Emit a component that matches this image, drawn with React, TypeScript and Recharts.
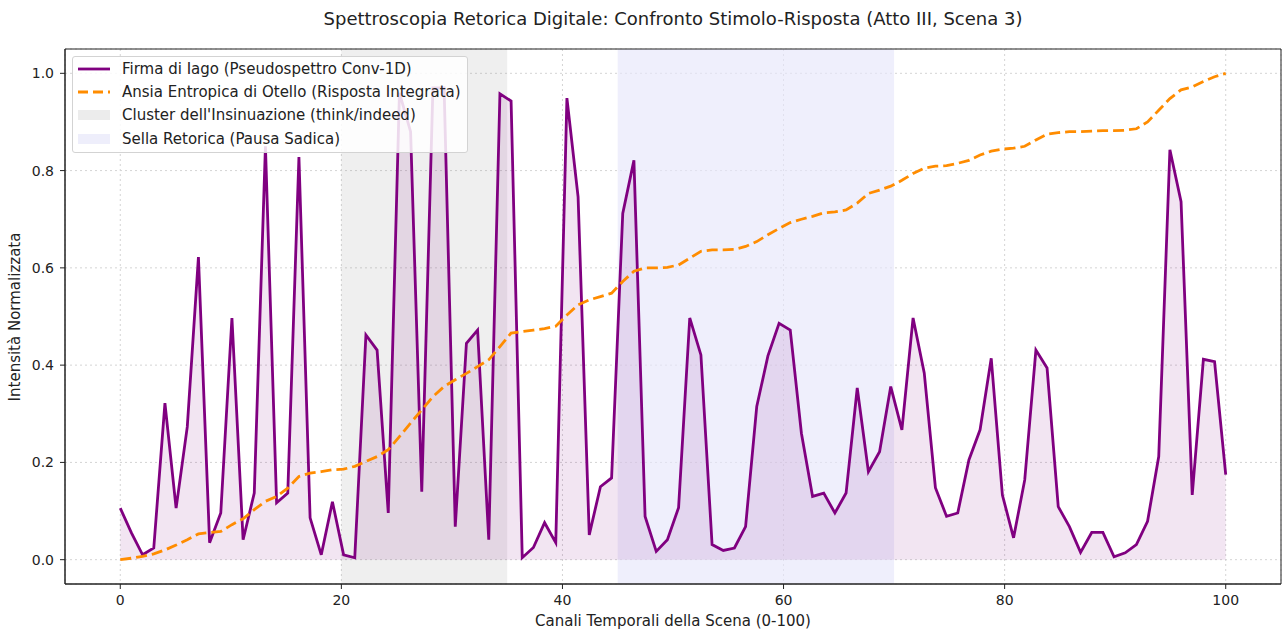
import {
  ComposedChart,
  Area,
  Line,
  XAxis,
  YAxis,
  CartesianGrid,
  ReferenceArea,
  Legend,
} from "recharts";

const FONT = "'DejaVu Sans', sans-serif";

// Firma di Iago, 100 canali su 0-100
const iagoSignature = [
  0.106, 0.055, 0.01, 0.024, 0.322, 0.106, 0.273, 0.622, 0.035, 0.096,
  0.497, 0.041, 0.137, 0.85, 0.117, 0.137, 0.828, 0.086, 0.01, 0.119,
  0.01, 0.004, 0.462, 0.431, 0.096, 0.96, 0.88, 0.14, 0.97, 0.97,
  0.068, 0.445, 0.472, 0.041, 0.958, 0.943, 0.004, 0.025, 0.076, 0.035,
  0.949, 0.746, 0.051, 0.15, 0.168, 0.712, 0.821, 0.089, 0.017, 0.041,
  0.107, 0.497, 0.421, 0.031, 0.019, 0.024, 0.068, 0.315, 0.419, 0.486,
  0.472, 0.26, 0.13, 0.137, 0.096, 0.137, 0.353, 0.181, 0.222, 0.356,
  0.267, 0.497, 0.384, 0.148, 0.089, 0.096, 0.205, 0.267, 0.414, 0.133,
  0.045, 0.164, 0.431, 0.394, 0.109, 0.068, 0.015, 0.056, 0.056, 0.006,
  0.014, 0.031, 0.079, 0.212, 0.843, 0.736, 0.133, 0.412, 0.407, 0.175,
];

// Ansia entropica di Otello (risposta integrata)
const otelloAnxiety = [
  0.0, 0.003, 0.007, 0.012, 0.02, 0.03, 0.041, 0.053, 0.056, 0.058,
  0.072, 0.084, 0.103, 0.12, 0.13, 0.147, 0.171, 0.178, 0.181, 0.185,
  0.186, 0.192, 0.202, 0.212, 0.226, 0.253, 0.281, 0.308, 0.335, 0.356,
  0.37, 0.383, 0.397, 0.411, 0.438, 0.466, 0.469, 0.472, 0.475, 0.48,
  0.503, 0.524, 0.534, 0.541, 0.548, 0.572, 0.593, 0.6, 0.6, 0.601,
  0.606, 0.62, 0.634, 0.637, 0.637, 0.638, 0.644, 0.654, 0.668, 0.681,
  0.693, 0.7, 0.706, 0.713, 0.715, 0.719, 0.733, 0.753, 0.76, 0.768,
  0.78, 0.794, 0.805, 0.809, 0.81, 0.815, 0.821, 0.832, 0.84, 0.844,
  0.846, 0.85, 0.863, 0.875, 0.878, 0.88, 0.88, 0.881, 0.882, 0.882,
  0.883, 0.886, 0.9, 0.924, 0.948, 0.966, 0.972, 0.983, 0.993, 1.0,
];

const xTicks = [0, 20, 40, 60, 80, 100];
const yTicks = [0, 0.2, 0.4, 0.6, 0.8, 1.0];
const insinuationSpan = [20, 35];
const saddleSpan = [45, 70];

const legendItems = [
  { label: "Firma di Iago (Pseudospettro Conv-1D)", kind: "line", color: "#800080" },
  { label: "Ansia Entropica di Otello (Risposta Integrata)", kind: "dash", color: "#ff8c00" },
  { label: "Cluster dell'Insinuazione (think/indeed)", kind: "patch", color: "#ececec" },
  { label: "Sella Retorica (Pausa Sadica)", kind: "patch", color: "#eeeefb" },
];

const data = iagoSignature.map((v, i) => ({
  x: (i * 100) / 99,
  iago: v,
  otello: otelloAnxiety[i],
}));

function ChartLegend() {
  return (
    <div
      style={{
        background: "rgba(255,255,255,0.85)",
        border: "1px solid #d3d3d3",
        borderRadius: 3,
        padding: "0 6px 2px 5px",
        fontFamily: FONT,
        fontSize: 15,
        color: "#222",
      }}
    >
      {legendItems.map((item) => (
        <div key={item.label} style={{ display: "flex", alignItems: "center", height: 23.3 }}>
          <svg width={32} height={12} style={{ marginRight: 12 }}>
            {item.kind === "patch" ? (
              <rect x={0} y={1} width={32} height={10} fill={item.color} />
            ) : (
              <line
                x1={0}
                y1={6}
                x2={32}
                y2={6}
                stroke={item.color}
                strokeWidth={2.8}
                strokeDasharray={item.kind === "dash" ? "10 5" : undefined}
              />
            )}
          </svg>
          <span style={{ whiteSpace: "nowrap" }}>{item.label}</span>
        </div>
      ))}
    </div>
  );
}

export default function App() {
  return (
    <div style={{ position: "relative", width: 1283, height: 632, background: "#fff" }}>
      <style>{"body{margin:0}"}</style>
      <div
        style={{
          position: "absolute",
          top: 8,
          left: 65,
          width: 1216,
          textAlign: "center",
          fontFamily: FONT,
          fontSize: 18,
          color: "#222",
        }}
      >
        Spettroscopia Retorica Digitale: Confronto Stimolo-Risposta (Atto III, Scena 3)
      </div>
      <ComposedChart
        width={1283}
        height={632}
        data={data}
        margin={{ top: 49, right: 2, bottom: 0, left: 0 }}
      >
        <CartesianGrid stroke="#d4d4d4" strokeDasharray="2 3" />
        <ReferenceArea
          x1={insinuationSpan[0]}
          x2={insinuationSpan[1]}
          fill="#808080"
          fillOpacity={0.13}
          stroke="none"
        />
        <ReferenceArea
          x1={saddleSpan[0]}
          x2={saddleSpan[1]}
          fill="#e6e6fa"
          fillOpacity={0.65}
          stroke="none"
        />
        <XAxis
          type="number"
          dataKey="x"
          domain={[-5, 105]}
          ticks={xTicks}
          height={48}
          tickSize={5}
          tickMargin={6}
          stroke="#222"
          tick={{ fill: "#222", fontSize: 14, fontFamily: FONT }}
          allowDataOverflow
        />
        <YAxis
          type="number"
          domain={[-0.05, 1.05]}
          ticks={yTicks}
          width={65}
          tickSize={5}
          tickMargin={6}
          stroke="#222"
          tick={{ fill: "#222", fontSize: 14, fontFamily: FONT }}
          tickFormatter={(v: number) => v.toFixed(1)}
          allowDataOverflow
        />
        <Area
          type="linear"
          dataKey="iago"
          stroke="#800080"
          strokeWidth={2.8}
          fill="#800080"
          fillOpacity={0.1}
          dot={false}
          activeDot={false}
          isAnimationActive={false}
        />
        <Line
          type="linear"
          dataKey="otello"
          stroke="#ff8c00"
          strokeWidth={2.8}
          strokeDasharray="11 5"
          dot={false}
          activeDot={false}
          isAnimationActive={false}
        />
        <ReferenceArea
          x1={-5}
          x2={105}
          y1={-0.05}
          y2={1.05}
          fill="none"
          stroke="#222"
          strokeWidth={1}
        />
        <Legend
          layout="vertical"
          align="center"
          verticalAlign="middle"
          content={<ChartLegend />}
          wrapperStyle={{ top: 56, left: 72, width: 396, height: 96 }}
        />
      </ComposedChart>
      <div
        style={{
          position: "absolute",
          top: 612,
          left: 65,
          width: 1216,
          textAlign: "center",
          fontFamily: FONT,
          fontSize: 15,
          color: "#222",
        }}
      >
        Canali Temporali della Scena (0-100)
      </div>
      <div
        style={{
          position: "absolute",
          left: 15,
          top: 317,
          transform: "translate(-50%, -50%) rotate(-90deg)",
          whiteSpace: "nowrap",
          fontFamily: FONT,
          fontSize: 15,
          color: "#222",
        }}
      >
        Intensità Normalizzata
      </div>
    </div>
  );
}
